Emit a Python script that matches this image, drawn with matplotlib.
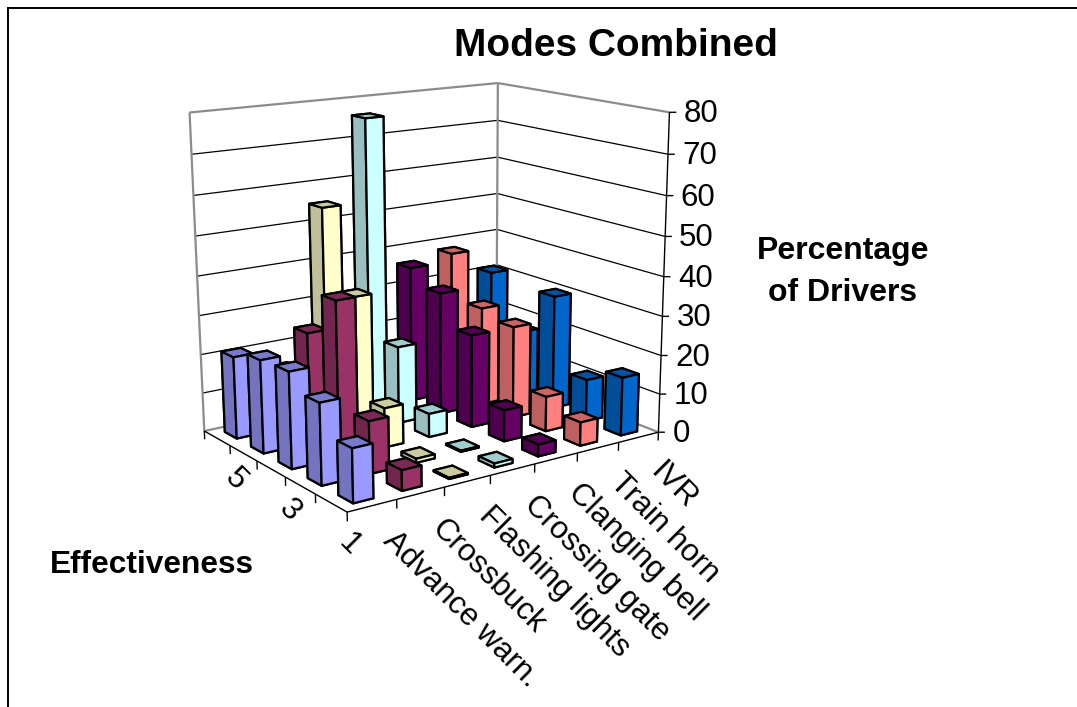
import numpy as np
import matplotlib
matplotlib.use("Agg")
import matplotlib.pyplot as plt
from matplotlib.colors import to_rgb
from matplotlib.lines import Line2D
from mpl_toolkits.mplot3d.art3d import Line3DCollection

plt.rcParams['font.family'] = ['Liberation Sans', 'DejaVu Sans']

categories = ["Advance warn.", "Crossbuck", "Flashing lights", "Crossing gate",
              "Clanging bell", "Train horn", "IVR"]
effectiveness = [1, 2, 3, 4, 5]
eff_labels = {1: "1", 3: "3", 5: "5"}
z_ticks = [0, 10, 20, 30, 40, 50, 60, 70, 80]

advance_warn = [13, 20, 24, 23.5, 21]
crossbuck = [5, 13, 39, 28, 15]
flashing_lights = [0.3, 1, 10, 35, 55]
crossing_gate = [1, 0.3, 6, 20, 76]
clanging_bell = [3, 8, 24, 32, 36]
train_horn = [6, 9, 24, 26, 38]
ivr = [15, 11, 30, 17.5, 31]
series = [advance_warn, crossbuck, flashing_lights, crossing_gate,
          clanging_bell, train_horn, ivr]
colors = ["#9999FF", "#993366", "#FFFFCC", "#CCFFFF", "#660066", "#FF8080", "#0066CC"]

W_PX, H_PX = 1077, 707
n_x, n_y = len(categories), len(effectiveness)
z_max = z_ticks[-1]

# Camera calibration: where the seven visible corners of the chart box fall, in image pixels.
box_anchor = [((0, 0, 0), (347, 515)), ((n_x, 0, 0), (658, 429)), ((0, n_y, 0), (204, 428)),
              ((n_x, n_y, 0), (497, 372)), ((n_x, n_y, z_max), (497, 82)),
              ((n_x, 0, z_max), (670, 113)), ((0, n_y, z_max), (190, 113))]
rows, rhs = [], []
for (x, y, z), (u, v) in box_anchor:
    X = [x, y, z, 1]
    rows.append(X + [0, 0, 0, 0] + [-u * x, -u * y, -u * z])
    rows.append([0, 0, 0, 0] + X + [-v * x, -v * y, -v * z])
    rhs += [u, v]
sol = np.linalg.lstsq(np.array(rows, float), np.array(rhs, float), rcond=None)[0]
cam_u, cam_v, cam_w = sol[:4], sol[4:8], np.append(sol[8:], 1.0)


def to_pixels(x, y, z):
    X = np.array([x, y, z, 1.0])
    w = cam_w @ X
    return (cam_u @ X) / w, (cam_v @ X) / w


fig = plt.figure(figsize=(W_PX / 100, H_PX / 100), dpi=100, facecolor="white")
ax = fig.add_axes([0, 0, 1, 1], projection="3d")
ax.set_xlim(0, n_x)
ax.set_ylim(0, n_y)
ax.set_zlim(0, z_max)
ax.set_axis_off()
ax.computed_zorder = False
ax.patch.set_alpha(0)
ax.apply_aspect()

# 2-D projection plane of the axes -> display pixels (image y runs downward)
inv = ax.transData.inverted()
(a0, b0), (a1, b1) = inv.transform([(0, H_PX), (W_PX, 0)])
sx, sy = (a1 - a0) / W_PX, (b1 - b0) / H_PX
depth_row = np.array([1 / n_x, 1 / n_y, -0.3 / z_max, 0.0])
proj_matrix = np.vstack([sx * cam_u + a0 * cam_w, sy * cam_v + b0 * cam_w, depth_row, cam_w])
ax.get_proj = lambda: proj_matrix


def draw_segments(segments, color, lw):
    coll = Line3DCollection(segments, colors=color, linewidths=lw, zorder=1)
    coll.set_clip_on(False)
    ax.add_collection3d(coll, autolim=False)


gray = "#8c8c8c"
walls = lambda z: [[(0, n_y, z), (n_x, n_y, z)], [(n_x, n_y, z), (n_x, 0, z)]]
draw_segments([s for z in z_ticks[1:-1] for s in walls(z)], "black", 0.9)
draw_segments(walls(z_max) + walls(0) + [[(0, n_y, 0), (0, n_y, z_max)],
                                         [(n_x, n_y, 0), (n_x, n_y, z_max)]], gray, 1.6)
draw_segments([[(n_x, 0, 0), (n_x, 0, z_max)], [(0, 0, 0), (n_x, 0, 0)], [(0, 0, 0), (0, n_y, 0)]],
              "black", 1.0)
tick_drop = 2.2
ticks = [[(i, 0, 0), (i, 0, -tick_drop)] for i in range(n_x + 1)]
ticks += [[(0, j, 0), (0, j, -tick_drop)] for j in range(1, n_y + 1)]
ticks += [[(n_x, 0, z), (n_x + 0.1, -0.07, z)] for z in z_ticks]
draw_segments(ticks, "black", 1.0)


def label_at(px, py, text, **kw):
    fig.text(px / W_PX, 1 - py / H_PX, text, **kw)


for z in z_ticks:
    px, py = to_pixels(n_x, 0, z)
    label_at(px + 14, py + 2, str(z), fontsize=22.5, ha="left", va="center")
for i, name in enumerate(categories):
    px, py = to_pixels(i + 0.5, -0.22, 0)
    label_at(px + 8, py + 27, name, fontsize=22.5, rotation=-45, rotation_mode="anchor",
             ha="left", va="center")
for j, eff in enumerate(effectiveness):
    if eff in eff_labels:
        px, py = to_pixels(-0.22, j + 0.5, 0)
        label_at(px + 29, py + 39, eff_labels[eff], fontsize=22.5, rotation=-45,
                 rotation_mode="anchor", ha="center", va="center")

width_x, width_y = 0.41, 0.46
k = 10
for j in range(n_y - 1, -1, -1):
    for i in range(n_x):
        r, g, b = to_rgb(colors[i])
        front = (r, g, b)
        side = (r * 0.75, g * 0.75, b * 0.75)
        top = (r * 0.8, g * 0.8, b * 0.8)
        ax.bar3d(i + 0.5 - width_x / 2, j + 0.5 - width_y / 2, 0, width_x, width_y, series[i][j],
                 color=[side, top, front, side, side, side], edgecolor="black",
                 linewidth=1.6, shade=False, zorder=k)
        k += 1

label_at(616, 46, "Modes Combined", fontsize=28, fontweight="bold", ha="center", va="center")
label_at(843, 272, "Percentage\nof Drivers", fontsize=23, fontweight="bold",
         ha="center", va="center", linespacing=1.53)
label_at(152, 565, "Effectiveness", fontsize=22.8, fontweight="bold", ha="center", va="center")

fig.add_artist(Line2D([8 / W_PX, 8 / W_PX], [0, 1 - 8 / H_PX], color="black", lw=1.4))
fig.add_artist(Line2D([8 / W_PX, 1], [1 - 8 / H_PX, 1 - 8 / H_PX], color="black", lw=1.4))

fig.savefig("out.png", dpi=100)
